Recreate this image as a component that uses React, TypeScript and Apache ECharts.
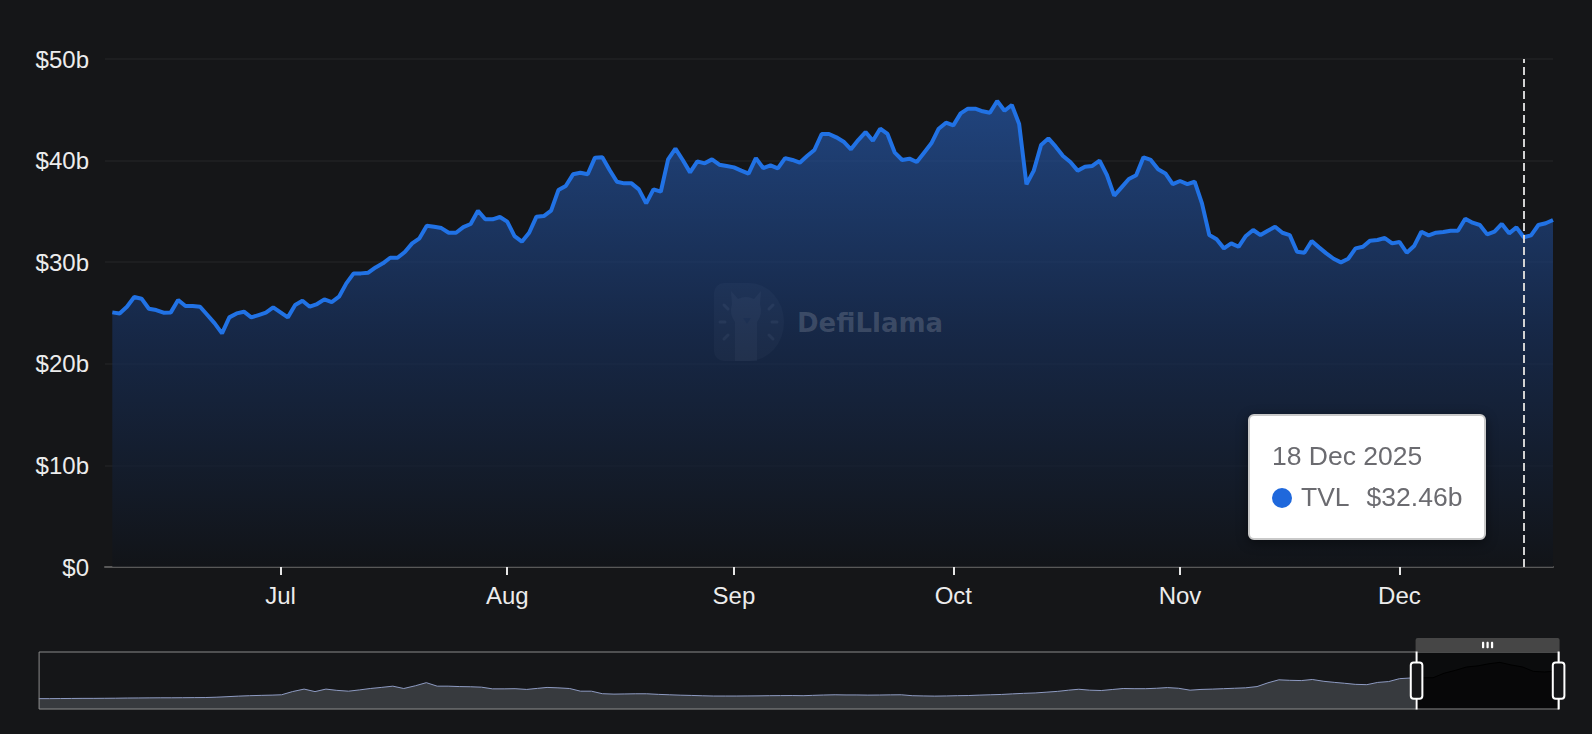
import { useEffect, useRef } from 'react';
import * as echarts from 'echarts';

// ---------- data ----------
const MONTHS = ['Jan', 'Feb', 'Mar', 'Apr', 'May', 'Jun', 'Jul', 'Aug', 'Sep', 'Oct', 'Nov', 'Dec'];

// Daily TVL (billions USD), first day 8 Jun 2025
const DAILY_START: [number, number, number] = [2025, 5, 8];
const TVL_DAILY = [
  25.06, 24.96, 25.62, 26.57, 26.41, 25.42, 25.29, 25.03, 25.06, 26.28,
  25.69, 25.69, 25.62, 24.8, 23.98, 23.0, 24.57, 24.96, 25.13, 24.57,
  24.8, 25.03, 25.55, 25.06, 24.57, 25.78, 26.21, 25.62, 25.88, 26.34,
  26.08, 26.6, 27.92, 28.9, 28.9, 28.97, 29.49, 29.89, 30.44, 30.44,
  31.0, 31.85, 32.35, 33.59, 33.49, 33.36, 32.9, 32.9, 33.45, 33.76,
  35.07, 34.22, 34.22, 34.45, 33.99, 32.57, 32.02, 32.9, 34.48, 34.54,
  35.07, 37.1, 37.5, 38.65, 38.81, 38.65, 40.29, 40.32, 39.07, 37.92,
  37.76, 37.76, 37.17, 35.79, 37.17, 36.94, 40.12, 41.17, 40.06, 38.84,
  39.92, 39.73, 40.12, 39.6, 39.47, 39.33, 39.01, 38.71, 40.25, 39.27,
  39.53, 39.24, 40.25, 40.06, 39.79, 40.45, 41.04, 42.62, 42.62, 42.29,
  41.86, 41.11, 42.02, 42.81, 41.96, 43.14, 42.62, 40.78, 40.06, 40.19,
  39.86, 40.78, 41.7, 43.14, 43.73, 43.47, 44.65, 45.11, 45.11, 44.85,
  44.71, 45.86, 44.91, 45.47, 43.6, 37.66, 39.01, 41.53, 42.19, 41.37,
  40.45, 39.86, 39.01, 39.4, 39.47, 39.99, 38.58, 36.55, 37.37, 38.19,
  38.55, 40.32, 40.06, 39.14, 38.74, 37.69, 37.99, 37.69, 37.92, 35.79,
  32.67, 32.25, 31.36, 31.85, 31.52, 32.58, 33.17, 32.67, 33.1, 33.49,
  32.9, 32.67, 31.03, 30.93, 32.08, 31.46, 30.87, 30.34, 29.98, 30.34,
  31.36, 31.52, 32.12, 32.18, 32.38, 31.85, 31.99, 30.93, 31.59, 33.0,
  32.64, 32.9, 32.97, 33.1, 33.1, 34.28, 33.89, 33.66, 32.74, 33.0,
  33.76, 32.84, 33.43, 32.46, 32.64, 33.66, 33.83, 34.15,
];

// Full history for the zoom slider: values on the 1st and 16th of each month from 1 Apr 2020
const HISTORY_START: [number, number] = [2020, 3];
const HISTORY_SEMIMONTHLY = [
  // 2020 Apr..Dec
  0.1, 0.1, 0.2, 0.3, 0.4, 0.4, 0.5, 0.6, 0.8, 0.9, 1.0, 1.1, 1.1, 1.2, 1.3, 1.4, 1.8, 2.4,
  // 2021
  3.1, 3.6, 4.0, 4.3, 4.7, 8.5, 11.5, 8.5, 11.5, 10.0, 9.0, 10.5,
  12.2, 13.5, 15.0, 12.2, 15.5, 19.2, 15.0, 15.0, 14.5, 14.3, 13.8, 11.8,
  // 2022
  11.8, 12.0, 11.1, 12.4, 13.5, 13.0, 12.2, 9.0, 9.0, 6.0, 5.5, 5.7,
  5.9, 5.9, 5.2, 4.7, 4.2, 3.9, 3.5, 3.2, 3.2, 3.2, 3.3, 3.4,
  // 2023
  3.6, 3.7, 3.8, 3.6, 4.0, 4.4, 4.7, 4.5, 4.5, 4.3, 4.4, 4.6,
  4.7, 3.6, 3.3, 3.1, 3.3, 3.6, 3.8, 4.3, 4.7, 5.1, 5.8, 6.4,
  // 2024
  6.9, 7.8, 8.8, 10.2, 11.3, 10.2, 9.8, 11.0, 12.2, 12.0, 12.0, 12.5,
  13.3, 12.5, 10.2, 11.1, 11.5, 12.0, 12.5, 13.0, 14.5, 19.0, 22.6, 22.0,
  // 2025
  21.7, 23.0, 20.8, 19.5, 18.5, 17.2, 16.8, 19.5, 20.5, 24.0, 24.8, 25.06,
  25.06, 30.44, 33.99, 37.92, 39.33, 41.86, 43.47, 40.45, 37.99, 32.67, 31.99, 32.84,
];
const HISTORY_LAST_DATE: [number, number, number] = [2025, 11, 22];
const HISTORY_LAST_VALUE = 34.15;

const WINDOW_START: [number, number, number] = [2025, 5, 7];
const WINDOW_END: [number, number, number] = [2025, 11, 22];
const Y_MIN = 0;
const Y_MAX = 50;
const Y_STEP = 10;
const TOOLTIP_INDEX = 193; // 18 Dec 2025

// ---------- styles ----------
const BG = '#151618';
const LINE = '#2172E5';
const FONT = '"Liberation Sans", Arial, Helvetica, sans-serif';

// watermark shapes
echarts.graphic.registerShape(
  'dfD',
  echarts.graphic.extendPath(
    'M10 0 H35 A35 39 0 0 1 35 78 H10 A10 10 0 0 1 0 68 V10 A10 10 0 0 1 10 0 Z',
    {}
  )
);
echarts.graphic.registerShape(
  'dfLlama',
  echarts.graphic.extendPath(
    'M17 8 L24 16 Q32 12 40 16 L47 8 L46 21 Q49 31 43 39 L43 78 L21 78 L21 39 Q15 31 18 21 Z',
    {}
  )
);

function ts(y: number, m: number, d: number) {
  return new Date(y, m, d).getTime();
}

export default function App() {
  const ref = useRef<HTMLDivElement>(null);

  useEffect(() => {
    document.body.style.margin = '0';
    document.body.style.background = BG;
    if (!ref.current) return;
    const chart = echarts.init(ref.current, null, { renderer: 'svg' });

    const daily = TVL_DAILY.map((v, i) => [ts(DAILY_START[0], DAILY_START[1], DAILY_START[2] + i), v]);
    const history = HISTORY_SEMIMONTHLY.map((v, i) => [
      ts(HISTORY_START[0], HISTORY_START[1] + Math.floor(i / 2), i % 2 ? 16 : 1),
      v,
    ]);
    history.push([ts(...HISTORY_LAST_DATE), HISTORY_LAST_VALUE]);

    const tick = (a: number, b: number, c: number, d: number) => ({
      type: 'line',
      shape: { x1: a, y1: b, x2: c, y2: d },
      style: { stroke: 'rgba(255,255,255,0.16)', lineWidth: 3, lineCap: 'round' },
    });

    chart.setOption({
      animation: false,
      backgroundColor: BG,
      grid: { left: 105, right: 39, top: 59, bottom: 167 },
      xAxis: {
        type: 'time',
        splitNumber: 6,
        axisLine: { lineStyle: { color: '#585858', width: 2 } },
        axisTick: { show: true, length: 8, lineStyle: { color: '#e6e6e6', width: 2 } },
        splitLine: { show: false },
        axisLabel: {
          color: '#ececec',
          fontSize: 24,
          fontFamily: FONT,
          margin: 16,
          showMinLabel: false,
          showMaxLabel: false,
          formatter: (value: number) => {
            const d = new Date(value);
            return d.getDate() === 1 ? MONTHS[d.getMonth()] : '';
          },
        },
      },
      yAxis: {
        type: 'value',
        min: Y_MIN,
        max: Y_MAX,
        interval: Y_STEP,
        axisLine: { show: false },
        axisTick: { show: false },
        splitLine: { lineStyle: { color: 'rgba(255,255,255,0.035)', width: 2 } },
        axisLabel: {
          color: '#ececec',
          fontSize: 24,
          fontFamily: FONT,
          margin: 16,
          formatter: (v: number) => (v === 0 ? '$0' : `$${v}b`),
        },
      },
      tooltip: {
        trigger: 'axis',
        alwaysShowContent: true,
        transitionDuration: 0,
        backgroundColor: '#ffffff',
        borderColor: '#c9c9c9',
        borderWidth: 2,
        borderRadius: 6,
        padding: [20, 22],
        extraCssText: 'box-shadow: 0 3px 12px rgba(0,0,0,0.45);',
        textStyle: { color: '#666', fontSize: 26, fontFamily: FONT },
        axisPointer: {
          type: 'line',
          lineStyle: { color: '#d2d2d2', width: 2, type: 'dashed' },
          label: { show: false },
        },
        position: (point: number[], _p: any, _d: any, _r: any, size: any) => [
          point[0] - size.contentSize[0] - 38,
          414,
        ],
        formatter: (params: any) => {
          const list = Array.isArray(params) ? params : [params];
          const p = list.find((x: any) => x.seriesName === 'TVL') || list[0];
          const d = new Date(p.value[0]);
          const date = `${d.getDate()} ${MONTHS[d.getMonth()]} ${d.getFullYear()}`;
          const val = `$${Number(p.value[1]).toFixed(2)}b`;
          return (
            `<div style="font-family:${FONT.replace(/"/g, "'")};font-size:26.5px;line-height:41px;color:#6b6b70">` +
            `<div>${date}</div>` +
            `<div style="display:flex;align-items:center">` +
            `<span style="display:inline-block;width:20px;height:20px;border-radius:50%;background:#1f68dc;margin-right:9px"></span>` +
            `<span>TVL</span><span style="margin-left:17px">${val}</span></div></div>`
          );
        },
      },
      dataZoom: [
        {
          type: 'slider',
          xAxisIndex: 0,
          filterMode: 'none',
          startValue: ts(...WINDOW_START),
          endValue: ts(...WINDOW_END),
          left: 33,
          right: 38,
          top: 638,
          height: 58,
          showDetail: false,
          brushSelect: true,
          backgroundColor: 'rgba(0,0,0,0)',
          borderColor: '#8a8a8a',
          borderRadius: 0,
          fillerColor: 'rgba(0,0,0,0.45)',
          dataBackground: {
            lineStyle: { color: '#8e9bc2', width: 1, opacity: 1 },
            areaStyle: { color: '#D2DBEE', opacity: 0.18 },
          },
          selectedDataBackground: {
            lineStyle: { color: '#000000', width: 1, opacity: 1 },
            areaStyle: { color: '#000000', opacity: 0.35 },
          },
          handleSize: '100%',
          handleStyle: { color: '#151618', borderColor: '#ffffff', borderWidth: 2 },
          moveHandleSize: 14,
          moveHandleStyle: { color: '#464646', opacity: 1 },
          emphasis: {
            handleStyle: { color: '#151618', borderColor: '#ffffff', borderWidth: 2 },
            moveHandleStyle: { color: '#464646', opacity: 1 },
          },
        },
      ],
      graphic: [
        {
          type: 'group',
          x: 714,
          y: 283,
          z: 10,
          silent: true,
          children: [
            { type: 'dfD', style: { fill: 'rgba(255,255,255,0.08)' } },
            { type: 'dfLlama', style: { fill: 'rgba(255,255,255,0.1)' } },
            {
              type: 'polygon',
              shape: { points: [[29, 35], [37, 35], [33, 41]] },
              style: { fill: 'rgba(10,20,40,0.35)' },
            },
            tick(10, 22, 14, 26),
            tick(6, 39, 11, 39),
            tick(10, 56, 14, 52),
            tick(59, 22, 55, 26),
            tick(63, 39, 58, 39),
            tick(59, 56, 55, 52),
          ],
        },
        {
          type: 'text',
          x: 797,
          y: 323,
          z: 10,
          silent: true,
          style: {
            text: 'DefiLlama',
            fill: 'rgba(255,255,255,0.16)',
            font: 'bold 26px "DejaVu Sans", sans-serif',
            verticalAlign: 'middle',
            align: 'left',
          },
        },
      ],
      series: [
        {
          name: 'history',
          type: 'line',
          data: history,
          symbol: 'none',
          silent: true,
          lineStyle: { opacity: 0, width: 0 },
          tooltip: { show: false },
          z: 1,
        },
        {
          name: 'TVL',
          type: 'line',
          data: daily,
          symbol: 'none',
          lineStyle: { color: LINE, width: 4 },
          itemStyle: { color: LINE },
          emphasis: { disabled: true },
          areaStyle: {
            color: new echarts.graphic.LinearGradient(0, 0, 0, 1, [
              { offset: 0, color: '#2557a8' },
              { offset: 0.5, color: '#172f5a' },
              { offset: 1, color: '#101318' },
            ]),
          },
          z: 2,
        },
      ],
    });

    chart.dispatchAction({ type: 'showTip', seriesIndex: 1, dataIndex: TOOLTIP_INDEX });

    return () => {
      chart.dispose();
    };
  }, []);

  return <div ref={ref} style={{ width: 1592, height: 734, background: BG }} />;
}
